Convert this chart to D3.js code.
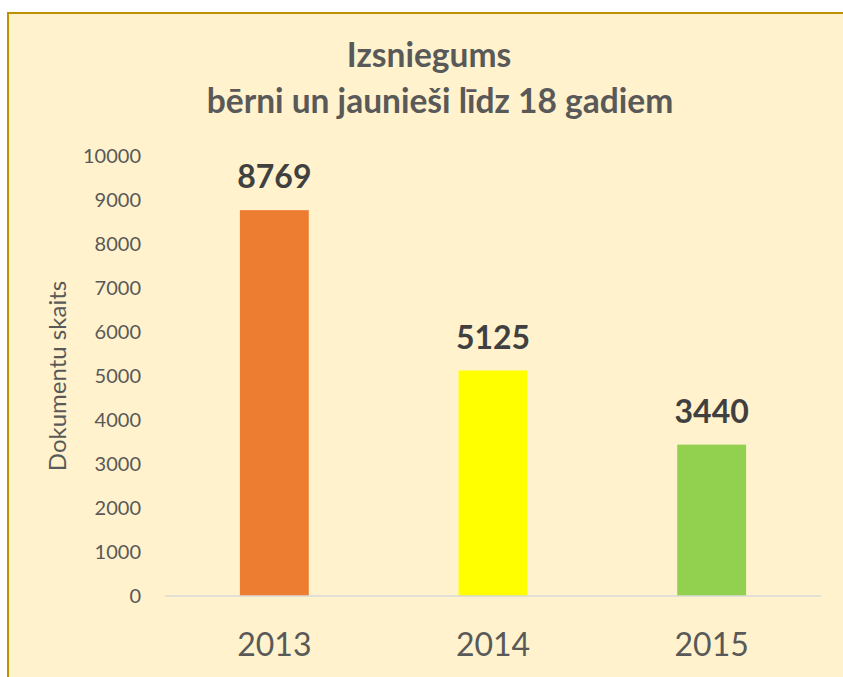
<!DOCTYPE html>
<html>
<head>
<meta charset="utf-8">
<script src="https://cdn.jsdelivr.net/npm/d3@7"></script>
<style>
  html, body { margin: 0; padding: 0; background: #ffffff; }
  svg { display: block; }
  text { font-family: Lato, "Open Sans", sans-serif; }
</style>
</head>
<body>
<svg id="chart" width="843" height="677"></svg>
<script>
const categories = ["2013", "2014", "2015"];
const values = [8769, 5125, 3440];
const barColors = ["#ED7D31", "#FFFF00", "#92D050"];
const yTicks = [0, 1000, 2000, 3000, 4000, 5000, 6000, 7000, 8000, 9000, 10000];
const titleLines = ["Izsniegums", "bērni un jaunieši līdz 18 gadiem"];
const yTitle = "Dokumentu skaits";

const svg = d3.select("#chart");

// background panel with border (extends beyond right/bottom edges)
svg.append("rect")
  .attr("x", 8).attr("y", 13)
  .attr("width", 860).attr("height", 700)
  .attr("fill", "#FFF2CC")
  .attr("stroke", "#BF9000")
  .attr("stroke-width", 2);

const plot = { left: 165, right: 821, top: 156, bottom: 596 };

const x = d3.scaleBand()
  .domain(categories)
  .range([plot.left, plot.right])
  .padding(0);

const y = d3.scaleLinear()
  .domain([0, 10000])
  .range([plot.bottom, plot.top]);

const barW = x.bandwidth() * 0.315;

// Title
svg.append("text")
  .attr("x", 429).attr("y", 67)
  .attr("text-anchor", "middle")
  .attr("font-size", 33.5).attr("font-weight", "bold")
  .attr("fill", "#595959")
  .text(titleLines[0]);
svg.append("text")
  .attr("x", 440).attr("y", 113)
  .attr("text-anchor", "middle")
  .attr("font-size", 33.5).attr("font-weight", "bold")
  .attr("fill", "#595959")
  .text(titleLines[1]);

// Y axis tick labels
const yAxis = d3.axisLeft(y).tickValues(yTicks).tickSize(0).tickPadding(0).tickFormat(d3.format("d"));
const yG = svg.append("g").attr("transform", `translate(141,0)`).call(yAxis);
yG.select(".domain").remove();
yG.selectAll("text")
  .attr("font-size", 20)
  .attr("fill", "#595959")
  .attr("font-family", "Lato, sans-serif");

// Y axis title
svg.append("text")
  .attr("transform", `translate(66,376) rotate(-90)`)
  .attr("text-anchor", "middle")
  .attr("font-size", 24)
  .attr("fill", "#595959")
  .text(yTitle);

// Bars
svg.selectAll("rect.bar")
  .data(values)
  .join("rect")
  .attr("class", "bar")
  .attr("x", (d, i) => x(categories[i]) + x.bandwidth() / 2 - barW / 2)
  .attr("y", d => y(d))
  .attr("width", barW)
  .attr("height", d => y(0) - y(d))
  .attr("fill", (d, i) => barColors[i]);

// Baseline
svg.append("line")
  .attr("x1", plot.left).attr("x2", plot.right)
  .attr("y1", y(0)).attr("y2", y(0))
  .attr("stroke", "#D9D9D9").attr("stroke-width", 1.5);

// Data labels
svg.selectAll("text.dlabel")
  .data(values)
  .join("text")
  .attr("class", "dlabel")
  .attr("x", (d, i) => x(categories[i]) + x.bandwidth() / 2)
  .attr("y", d => y(d) - 22)
  .attr("text-anchor", "middle")
  .attr("font-size", 32).attr("font-weight", "bold")
  .attr("fill", "#404040")
  .text(d => d);

// X axis labels
const xAxis = d3.axisBottom(x).tickSize(0).tickPadding(0);
const xG = svg.append("g").attr("transform", `translate(0,${y(0)})`).call(xAxis);
xG.select(".domain").remove();
xG.selectAll("text")
  .attr("dy", null)
  .attr("y", 60)
  .attr("font-size", 32)
  .attr("fill", "#595959")
  .attr("font-family", "Lato, sans-serif");
</script>
</body>
</html>
